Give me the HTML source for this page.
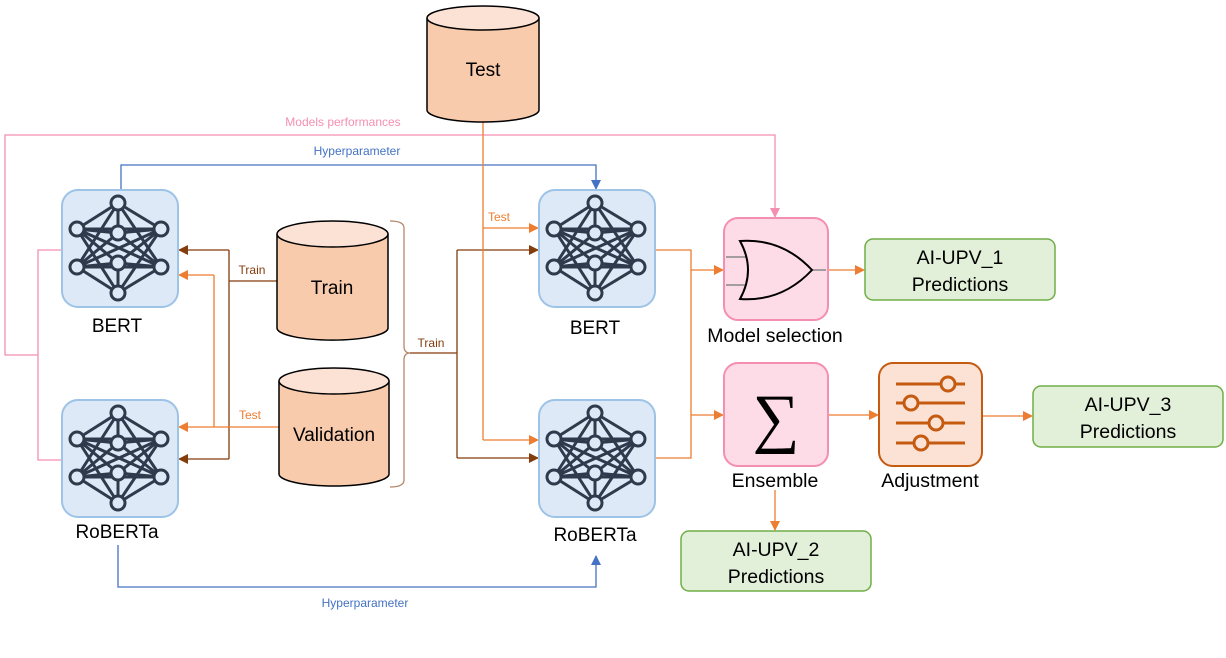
<!DOCTYPE html>
<html><head><meta charset="utf-8"><style>
html,body{margin:0;padding:0;background:#fff;}
svg{display:block;font-family:"Liberation Sans",sans-serif;}
</style></head><body>
<svg width="1226" height="658" viewBox="0 0 1226 658" xmlns="http://www.w3.org/2000/svg">
<defs>
<marker id="ao" markerWidth="10" markerHeight="10" refX="9" refY="5" orient="auto" markerUnits="userSpaceOnUse"><path d="M0,0 L10,5 L0,10 z" fill="#ed7d31"/></marker>
<marker id="ab" markerWidth="10" markerHeight="10" refX="9" refY="5" orient="auto" markerUnits="userSpaceOnUse"><path d="M0,0 L10,5 L0,10 z" fill="#843c0c"/></marker>
<marker id="ap" markerWidth="10" markerHeight="10" refX="9" refY="5" orient="auto" markerUnits="userSpaceOnUse"><path d="M0,0 L10,5 L0,10 z" fill="#f48fb1"/></marker>
<marker id="abl" markerWidth="10" markerHeight="10" refX="9" refY="5" orient="auto" markerUnits="userSpaceOnUse"><path d="M0,0 L10,5 L0,10 z" fill="#4472c4"/></marker>
<g id="net">
<rect x="0" y="0" width="116" height="117" rx="16" fill="#dde9f6" stroke="#9dc3e6" stroke-width="2"/>
<g stroke="#2f3a4d" stroke-width="3" fill="none">
<path d="M56,13 L15,39 M56,13 L99,39 M56,13 L56,43 M56,13 L15,77 M56,13 L99,77
M15,39 L56,43 M15,39 L56,73 M15,39 L99,39 M15,39 L99,77 M15,39 L56,103
M99,39 L56,43 M99,39 L56,73 M99,39 L15,77 M99,39 L56,103
M15,77 L56,43 M15,77 L56,73 M15,77 L99,77 M15,77 L56,103
M99,77 L56,43 M99,77 L56,73 M99,77 L56,103 M56,73 L56,103"/>
</g>
<g stroke="#2f3a4d" stroke-width="3" fill="#dde9f6">
<circle cx="56" cy="13" r="7"/><circle cx="15" cy="39" r="7"/><circle cx="99" cy="39" r="7"/>
<circle cx="56" cy="43" r="7"/><circle cx="56" cy="73" r="7"/><circle cx="15" cy="77" r="7"/>
<circle cx="99" cy="77" r="7"/><circle cx="56" cy="103" r="7"/>
</g>
</g>
</defs>

<g stroke="#f48fb1" stroke-width="1.3" fill="none">
<path d="M62,250 L38,250 L38,460 L62,460 M38,355 L5,355 L5,135 L775,135 L775,217" marker-end="url(#ap)"/>
</g>
<text x="343" y="126" font-size="12" fill="#f48fb1" text-anchor="middle">Models performances</text>

<path d="M121,190 L121,165 L596,165 L596,189" stroke="#4472c4" stroke-width="1.3" fill="none" marker-end="url(#abl)"/>
<text x="357" y="155" font-size="12" fill="#4472c4" text-anchor="middle">Hyperparameter</text>
<path d="M118,545 L118,587 L596,587 L596,556" stroke="#4472c4" stroke-width="1.3" fill="none" marker-end="url(#abl)"/>
<text x="365" y="607" font-size="12" fill="#4472c4" text-anchor="middle">Hyperparameter</text>

<path d="M277,281 L229,281 M229,250 L229,459" stroke="#843c0c" stroke-width="1.3" fill="none"/>
<path d="M229,250 L179,250" stroke="#843c0c" stroke-width="1.3" marker-end="url(#ab)"/>
<path d="M229,459 L179,459" stroke="#843c0c" stroke-width="1.3" marker-end="url(#ab)"/>
<text x="252" y="274" font-size="12" fill="#843c0c" text-anchor="middle">Train</text>
<path d="M279,427 L214,427 M214,275 L214,427" stroke="#ed7d31" stroke-width="1.3" fill="none"/>
<path d="M214,275 L179,275" stroke="#ed7d31" stroke-width="1.3" marker-end="url(#ao)"/>
<path d="M214,427 L179,427" stroke="#ed7d31" stroke-width="1.3" marker-end="url(#ao)"/>
<text x="250" y="419" font-size="12" fill="#ed7d31" text-anchor="middle">Test</text>

<path d="M390,221 Q404,221 404,228 L404,346 Q404,353 410,353 Q404,353 404,360 L404,480 Q404,487 390,487" stroke="#b4876a" stroke-width="1.3" fill="none"/>
<path d="M410,353 L457,353 M457,250 L457,458" stroke="#843c0c" stroke-width="1.3" fill="none"/>
<path d="M457,250 L538,250" stroke="#843c0c" stroke-width="1.3" marker-end="url(#ab)"/>
<path d="M457,458 L538,458" stroke="#843c0c" stroke-width="1.3" marker-end="url(#ab)"/>
<text x="431" y="347" font-size="12" fill="#843c0c" text-anchor="middle">Train</text>

<path d="M483,120 L483,440" stroke="#ed7d31" stroke-width="1.3" fill="none"/>
<path d="M483,228 L538,228" stroke="#ed7d31" stroke-width="1.3" marker-end="url(#ao)"/>
<path d="M483,440 L538,440" stroke="#ed7d31" stroke-width="1.3" marker-end="url(#ao)"/>
<text x="499" y="221" font-size="12" fill="#ed7d31" text-anchor="middle">Test</text>

<path d="M655,250 L691,250 L691,458 L655,458" stroke="#ed7d31" stroke-width="1.3" fill="none"/>
<path d="M691,270 L723,270" stroke="#ed7d31" stroke-width="1.3" marker-end="url(#ao)"/>
<path d="M691,415 L723,415" stroke="#ed7d31" stroke-width="1.3" marker-end="url(#ao)"/>
<path d="M828,270 L864,270" stroke="#ed7d31" stroke-width="1.3" marker-end="url(#ao)"/>
<path d="M828,415 L878,415" stroke="#ed7d31" stroke-width="1.3" marker-end="url(#ao)"/>
<path d="M982,416 L1032,416" stroke="#ed7d31" stroke-width="1.3" marker-end="url(#ao)"/>
<path d="M775,490 L775,530" stroke="#ed7d31" stroke-width="1.3" marker-end="url(#ao)"/>

<g stroke="#000" stroke-width="1.5" fill="#f8cbad">
<path d="M427,18 L427,110 A56,12 0 0 0 539,110 L539,18"/>
<ellipse cx="483" cy="18" rx="56" ry="12" fill="#fbe2d5"/>
<path d="M277,234 L277,328 A55,12 0 0 0 388,328 L388,234"/>
<ellipse cx="332.5" cy="234" rx="55.5" ry="13" fill="#fbe2d5"/>
<path d="M279,381 L279,474 A55,12 0 0 0 389,474 L389,381"/>
<ellipse cx="334" cy="381" rx="55" ry="13" fill="#fbe2d5"/>
</g>
<text x="483" y="76" font-size="19" text-anchor="middle">Test</text>
<text x="332" y="294" font-size="19" text-anchor="middle">Train</text>
<text x="334" y="441" font-size="19" text-anchor="middle">Validation</text>

<use href="#net" x="62" y="190"/>
<use href="#net" x="62" y="400"/>
<use href="#net" x="539" y="190"/>
<use href="#net" x="539" y="400"/>
<text x="117" y="332" font-size="19" text-anchor="middle">BERT</text>
<text x="117" y="538" font-size="19" text-anchor="middle">RoBERTa</text>
<text x="595" y="334" font-size="19" text-anchor="middle">BERT</text>
<text x="595" y="541" font-size="19" text-anchor="middle">RoBERTa</text>

<rect x="724" y="218" width="104" height="102" rx="14" fill="#fddbe7" stroke="#f48fb1" stroke-width="2"/>
<path d="M726,257 L746,257 M726,285 L746,285 M812,270 L826,270" stroke="#888" stroke-width="1.5"/>
<path d="M740,241 Q782,238 812,270 Q782,302 740,299 Q756,270 740,241 Z" fill="none" stroke="#000" stroke-width="2"/>
<text x="775" y="342" font-size="19.5" text-anchor="middle">Model selection</text>

<rect x="724" y="363" width="104" height="103" rx="14" fill="#fddbe7" stroke="#f48fb1" stroke-width="2"/>
<text x="776" y="440" font-size="66" font-family="Liberation Serif,serif" text-anchor="middle">∑</text>
<text x="775" y="487" font-size="19.5" text-anchor="middle">Ensemble</text>

<rect x="879" y="363" width="103" height="103" rx="14" fill="#fbe2d5" stroke="#c55a11" stroke-width="2"/>
<g stroke="#c55a11" stroke-width="3" fill="#fbe2d5">
<path d="M896,384 L965,384 M896,403 L965,403 M896,423 L965,423 M896,443 L965,443"/>
<circle cx="948" cy="384" r="7"/><circle cx="911" cy="403" r="7"/><circle cx="936" cy="423" r="7"/><circle cx="921" cy="443" r="7"/>
</g>
<text x="930" y="487" font-size="19.5" text-anchor="middle">Adjustment</text>

<g fill="#e2efd9" stroke="#70ad47" stroke-width="1.5">
<rect x="865" y="239" width="190" height="61" rx="8"/>
<rect x="1033" y="386" width="190" height="61" rx="8"/>
<rect x="681" y="531" width="190" height="60" rx="8"/>
</g>
<g font-size="19.5" text-anchor="middle">
<text x="960" y="264">AI-UPV_1</text><text x="960" y="291">Predictions</text>
<text x="1128" y="411">AI-UPV_3</text><text x="1128" y="438">Predictions</text>
<text x="776" y="556">AI-UPV_2</text><text x="776" y="583">Predictions</text>
</g>
</svg>
</body></html>
